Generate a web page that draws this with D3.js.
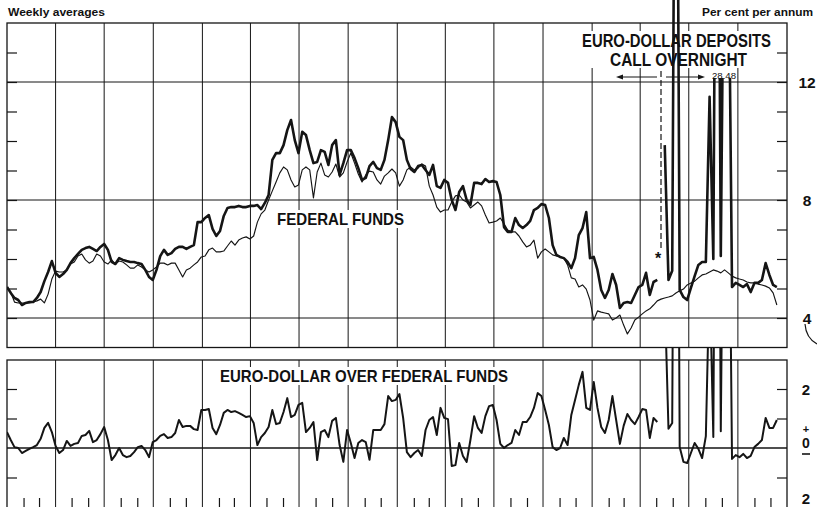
<!DOCTYPE html>
<html><head><meta charset="utf-8">
<script src="https://cdn.jsdelivr.net/npm/d3@7"></script>
<style>
body{margin:0;background:#fff}
svg{display:block}
text{font-family:"Liberation Sans",Arial,Helvetica,sans-serif;fill:#111}
</style>
</head><body>
<svg id="c" width="817" height="507"></svg>
<script>
// ---------------- DATA (weekly averages, per cent per annum) ----------------
const startYear = 1968;              // first week: start of 1968, chart spans 4 years (16 quarters)
const euroRate = [ // Euro-dollar deposits, call/overnight (thick line)
 5.05,4.85,4.68,4.61,4.44,4.51,4.54,4.54,4.68,4.88,
 5.25,5.56,5.93,5.53,5.39,5.49,5.63,5.86,6.03,6.17,
 6.31,6.37,6.41,6.34,6.27,6.41,6.51,6.31,5.90,5.83,
 6.03,5.97,5.93,5.90,5.90,5.86,5.83,5.63,5.39,5.29,
 5.63,6.10,6.31,6.14,6.20,6.34,6.41,6.41,6.34,6.41,
 6.47,7.25,7.25,7.39,7.49,7.02,6.78,6.95,7.46,7.73,
 7.76,7.76,7.80,7.76,7.76,7.80,7.80,7.83,7.69,7.90,
 8.17,9.36,9.59,9.59,9.86,10.37,10.71,10.03,9.59,10.31,
 10.20,9.69,9.25,9.29,9.69,9.63,9.19,9.86,10.03,8.85,
 9.25,9.69,9.69,9.42,9.08,8.68,8.75,9.15,9.29,9.08,
 9.02,9.36,10.03,10.81,10.64,10.14,10.03,9.36,9.05,8.95,
 9.15,9.19,9.02,8.85,9.19,8.47,8.41,8.68,8.58,8.00,
 7.66,8.27,8.47,8.00,7.83,8.58,8.58,8.54,8.71,8.61,
 8.64,8.61,8.17,7.08,6.92,6.92,7.39,7.15,7.05,7.15,
 7.29,7.66,7.73,7.86,7.83,7.39,6.47,6.14,6.07,6.03,
 5.90,5.69,6.03,6.81,7.05,7.59,6.03,6.07,5.63,4.95,
 4.68,4.95,5.49,5.12,4.34,4.51,4.54,4.51,4.78,5.05,
 5.12,5.53,4.78,5.22,5.29,null,9.86,5.29,5.60,30.00,
 4.95,4.71,4.61,5.02,5.42,5.80,5.90,5.90,11.50,6.00,
 28.48,6.10,20.00,18.00,5.05,5.19,5.12,5.05,5.15,4.88,
 5.19,5.19,5.29,5.86,5.46,5.12,5.05];
const fedFunds = [ // Federal funds (thin line)
 5.02,4.88,4.54,4.51,4.51,4.51,4.51,4.54,4.58,4.64,
 4.51,4.81,5.32,5.59,5.56,5.56,5.63,5.83,5.90,6.10,
 6.17,5.97,5.86,5.93,6.17,6.10,5.90,5.83,5.97,5.83,
 5.93,5.90,5.80,5.69,5.69,5.80,5.73,5.63,5.56,5.63,
 5.73,5.86,5.86,5.80,5.86,5.86,5.63,5.39,5.63,5.69,
 5.80,5.90,6.07,6.10,6.31,6.37,6.24,6.24,6.27,6.44,
 6.61,6.47,6.64,6.71,6.75,6.68,6.78,7.25,7.53,7.66,
 8.00,8.31,8.61,8.92,9.12,9.02,8.68,8.44,8.51,9.02,
 9.12,9.02,8.07,8.95,9.25,8.85,8.78,8.95,9.22,8.78,
 8.92,9.29,9.59,9.25,8.88,8.61,8.85,8.98,8.95,8.68,
 8.54,8.81,8.92,9.05,8.92,8.47,8.68,9.02,9.12,9.02,
 9.08,9.22,9.15,8.47,8.17,7.76,7.59,7.66,7.66,7.93,
 8.14,8.17,8.00,7.93,7.73,7.83,7.93,7.80,7.49,7.22,
 7.25,7.29,7.39,7.19,6.98,6.92,6.92,6.78,6.58,6.41,
 6.47,6.64,6.03,6.24,6.34,6.24,6.14,6.10,6.07,6.03,
 5.80,5.36,5.32,5.05,5.12,4.98,4.61,3.93,4.24,4.20,
 4.17,4.14,3.93,4.00,4.10,3.76,3.46,3.66,3.93,4.03,
 4.14,4.24,4.31,4.44,4.58,4.64,4.68,4.71,4.75,4.85,
 4.92,4.98,5.12,5.19,5.25,5.36,5.46,5.49,5.56,5.63,
 5.59,5.53,5.63,5.53,5.42,5.36,5.32,5.29,5.22,5.19,
 5.19,5.15,5.12,5.08,5.02,4.85,4.44];
const spread = [ // Euro-dollar over federal funds (lower panel)
 0.54,0.27,0.03,0.00,-0.17,-0.10,-0.03,0.03,0.10,0.31,
 0.68,0.85,0.54,0.07,-0.17,-0.07,0.24,0.07,0.14,0.17,
 0.41,0.44,0.58,0.20,0.27,0.47,0.71,0.27,-0.41,-0.24,
 0.00,-0.24,-0.31,-0.27,-0.14,0.03,0.07,-0.07,-0.31,0.20,
 0.27,0.41,0.47,0.34,0.37,0.51,0.95,0.71,0.75,0.75,
 0.64,0.61,1.29,1.29,1.32,0.68,0.47,0.78,1.19,1.29,
 1.22,1.25,1.19,1.12,1.05,1.08,0.85,0.10,0.37,0.51,
 0.71,1.29,0.81,0.85,1.22,1.69,1.05,1.12,1.46,1.53,
 0.54,0.68,0.88,-0.41,0.54,0.61,0.37,0.92,1.02,0.10,
 -0.47,0.61,0.17,-0.34,0.17,0.27,0.20,-0.40,0.61,0.61,
 0.61,0.81,1.76,1.59,1.63,1.83,1.02,-0.14,-0.31,-0.17,
 -0.07,-0.27,0.61,0.95,1.05,0.44,1.36,1.02,0.98,-0.61,
 -0.58,0.17,-0.27,-0.47,0.27,1.08,0.68,0.51,1.08,1.42,
 1.46,0.95,0.14,0.00,0.10,0.17,0.61,0.44,0.88,0.88,
 1.05,1.36,1.86,1.76,1.29,0.78,0.03,-0.07,0.00,0.34,
 0.10,1.12,1.63,2.14,2.58,1.36,1.29,2.24,1.36,0.71,
 0.51,0.95,1.76,0.95,0.14,0.75,1.15,0.95,0.81,1.05,
 1.32,1.29,0.34,1.02,0.88,null,5.18,0.65,0.85,25.00,
 0.03,-0.47,-0.51,-0.17,0.17,-0.03,-0.34,0.40,5.94,0.37,
 22.90,0.57,14.40,12.50,-0.37,-0.24,-0.31,-0.20,-0.34,-0.27,
 0.03,0.14,0.27,1.02,0.68,0.68,0.95];

const topTickValues = [4,5,6,7,8,9,10,11,12,13];
const topGridValues = [4,8,12];
const topLabelValues = [12,8,4];
const botTickValues = [-1,1,2];
const botLabels = [{v:2,t:"2"},{v:-2,t:"2"}];
const offScaleNote = "28.48";
const breakWeek = 175;               // start of call/overnight series (dashed marker)

// ---------------- LAYOUT ----------------
const svg = d3.select("#c");
const X0 = 7, X1 = 787;
const x = d3.scaleTime().domain([new Date(startYear,0,1), new Date(startYear+4,0,1)]).range([X0, X1]);
const yT = d3.scaleLinear().domain([3,14]).range([347.5,23]);
const yB = d3.scaleLinear().domain([-2,3]).range([507,359.5]);
const dates = euroRate.map((_,i)=>new Date(startYear,0,1+7*i));
const INK = "#151515";

svg.append("rect").attr("width",817).attr("height",507).attr("fill","#fff");

const defs = svg.append("defs");
const ce = defs.append("clipPath").attr("id","clipEuro");
ce.append("rect").attr("x",X0).attr("y",-20).attr("width",700-X0).attr("height",yT(3)+20);
ce.append("rect").attr("x",700).attr("y",78).attr("width",X1-700).attr("height",yT(3)-78);
defs.append("clipPath").attr("id","clipTop").append("rect")
  .attr("x",X0).attr("y",yT(14)).attr("width",X1-X0).attr("height",yT(3)-yT(14));
defs.append("clipPath").attr("id","clipBot").append("rect")
  .attr("x",X0).attr("y",yT(3)).attr("width",X1-X0).attr("height",200);

// quarters & months
const quarters = d3.timeMonth.every(3).range(new Date(startYear,3,1), new Date(startYear+4,0,1));
const months = d3.timeMonth.range(new Date(startYear,0,1), new Date(startYear+4,0,1)).filter(d=>d.getMonth()%3);

const grid = svg.append("g").attr("stroke",INK).attr("fill","none");
grid.append("rect").attr("x",X0).attr("y",yT(14)).attr("width",X1-X0).attr("height",yT(3)-yT(14)).attr("stroke-width",1.3);
grid.append("rect").attr("x",X0).attr("y",360).attr("width",X1-X0).attr("height",170).attr("stroke-width",1.3);
grid.selectAll(".qt").data(quarters).join("line").attr("class","qt")
  .attr("x1",d=>x(d)).attr("x2",d=>x(d)).attr("y1",yT(14)).attr("y2",yT(3)).attr("stroke-width",1);
grid.selectAll(".qb").data(quarters).join("line").attr("class","qb")
  .attr("x1",d=>x(d)).attr("x2",d=>x(d)).attr("y1",360).attr("y2",507).attr("stroke-width",1);
grid.selectAll(".hg").data(topGridValues).join("line").attr("class","hg")
  .attr("x1",X0).attr("x2",X1).attr("y1",d=>yT(d)).attr("y2",d=>yT(d)).attr("stroke-width",1);
grid.append("line").attr("x1",X0).attr("x2",X1).attr("y1",yB(0)).attr("y2",yB(0)).attr("stroke-width",1.6);

function ticks(sel){ sel.select(".domain").remove(); sel.selectAll("line").attr("stroke",INK).attr("stroke-width",1.2); sel.selectAll("text").remove(); }
svg.append("g").attr("transform",`translate(${X0},0)`).call(d3.axisLeft(yT).tickValues(topTickValues).tickSize(-10)).call(ticks);
svg.append("g").attr("transform",`translate(${X1},0)`).call(d3.axisRight(yT).tickValues(topTickValues).tickSize(-10)).call(ticks);
svg.append("g").attr("transform",`translate(${X0},0)`).call(d3.axisLeft(yB).tickValues(botTickValues).tickSize(-10)).call(ticks);
svg.append("g").attr("transform",`translate(${X1},0)`).call(d3.axisRight(yB).tickValues(botTickValues).tickSize(-10)).call(ticks);
svg.append("g").attr("transform",`translate(0,507)`).call(d3.axisTop(x).tickValues(months).tickSize(9)).call(ticks);

// white knockouts behind labels
const ko = svg.append("g").attr("fill","#fff");
ko.append("rect").attr("x",579).attr("y",31).attr("width",195).attr("height",37);
ko.append("rect").attr("x",274).attr("y",210).attr("width",133).attr("height",18);
ko.append("rect").attr("x",217).attr("y",367).attr("width",294).attr("height",18);

// series
const lineT = d3.line().defined(d=>d!=null).x((d,i)=>x(dates[i])).y(d=>yT(d));
const lineB = d3.line().defined(d=>d!=null).x((d,i)=>x(dates[i])).y(d=>yB(d));
svg.append("path").attr("d",lineT(fedFunds)).attr("clip-path","url(#clipTop)")
  .attr("fill","none").attr("stroke",INK).attr("stroke-width",1.15).attr("stroke-linejoin","round");
svg.append("path").attr("d",lineT(euroRate)).attr("clip-path","url(#clipEuro)")
  .attr("fill","none").attr("stroke",INK).attr("stroke-width",2.6).attr("stroke-linejoin","round");
svg.append("path").attr("d",lineB(spread)).attr("clip-path","url(#clipBot)")
  .attr("fill","none").attr("stroke",INK).attr("stroke-width",2.0).attr("stroke-linejoin","round");

// annotation: dashed divider + arrows
const xb = x(dates[breakWeek]);
const ann = svg.append("g").attr("stroke",INK).attr("fill",INK);
ann.append("line").attr("x1",xb).attr("x2",xb).attr("y1",71).attr("y2",250).attr("stroke-width",1.2).attr("stroke-dasharray","6,3");
ann.append("line").attr("x1",xb-4).attr("x2",620).attr("y1",77).attr("y2",77).attr("stroke-width",1.2);
ann.append("path").attr("d",`M616,77 l7,-2.5 l0,5 z`).attr("stroke","none");
ann.append("line").attr("x1",xb+5).attr("x2",701).attr("y1",77).attr("y2",77).attr("stroke-width",1.2);
ann.append("path").attr("d",`M705,77 l-7,-2.5 l0,5 z`).attr("stroke","none");
svg.append("path").attr("d","M805,324 Q806,338 817,344").attr("fill","none").attr("stroke",INK).attr("stroke-width",1.2);

// texts
function txt(t,xp,yp,size,opts={}){
  const e = svg.append("text").attr("x",xp).attr("y",yp).attr("font-size",size)
    .attr("font-weight",opts.w||700).attr("text-anchor",opts.a||"start").text(t);
  if(opts.len) e.attr("textLength",opts.len).attr("lengthAdjust","spacingAndGlyphs");
  return e;
}
txt("Weekly averages",8,16,10.5,{len:97});
txt("Per cent per annum",702,16,10.5,{len:111});
txt("EURO-DOLLAR DEPOSITS",582,47,17.5,{len:189});
txt("CALL OVERNIGHT",610,66,17.5,{len:137});
txt(offScaleNote,712,78.5,8.5,{w:400,len:24});
txt("*",655,264,16,{w:700});
txt("FEDERAL FUNDS",277,225,16.5,{len:127});
txt("EURO-DOLLAR OVER FEDERAL FUNDS",220,382,16.5,{len:288});
topLabelValues.forEach(v=>txt(String(v),807,yT(v)+6,15.5,{a:"middle"}));
botLabels.forEach(l=>txt(l.t,806,Math.min(yB(l.v)+6,504),15,{a:"middle"}));
txt("+",806,433,11,{a:"middle"});
txt("0",806,448,14,{a:"middle"});
svg.append("line").attr("x1",802).attr("x2",810).attr("y1",454).attr("y2",454).attr("stroke",INK).attr("stroke-width",1.6);
</script>
</body></html>
